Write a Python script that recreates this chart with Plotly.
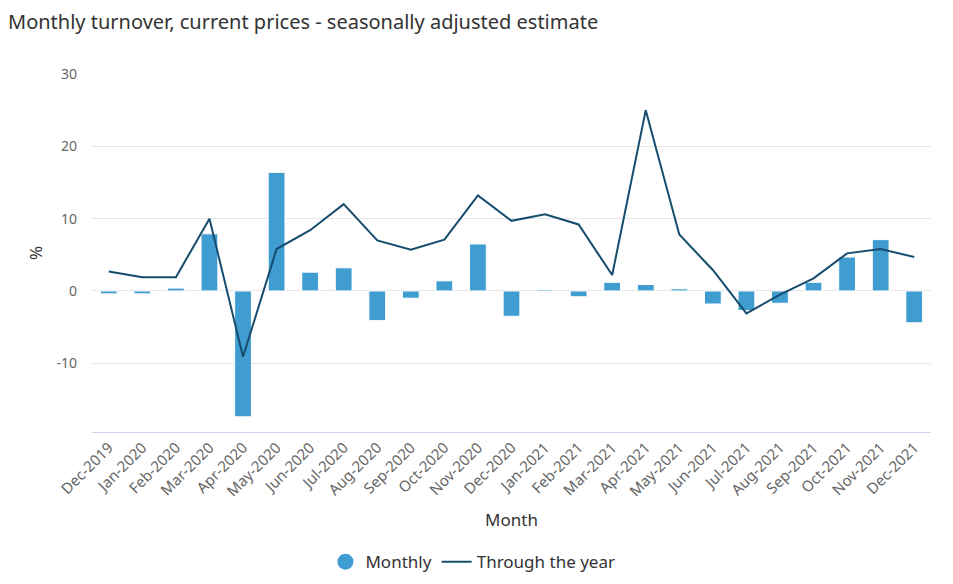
import plotly.graph_objects as go

months = ["Dec-2019", "Jan-2020", "Feb-2020", "Mar-2020", "Apr-2020", "May-2020", "Jun-2020",
          "Jul-2020", "Aug-2020", "Sep-2020", "Oct-2020", "Nov-2020", "Dec-2020", "Jan-2021",
          "Feb-2021", "Mar-2021", "Apr-2021", "May-2021", "Jun-2021", "Jul-2021", "Aug-2021",
          "Sep-2021", "Oct-2021", "Nov-2021", "Dec-2021"]
monthly = [-0.4, -0.4, 0.4, 7.9, -17.4, 16.4, 2.6, 3.2, -4.1, -1.0, 1.4, 6.5, -3.5, 0.2,
           -0.8, 1.2, 0.9, 0.3, -1.8, -2.7, -1.7, 1.2, 4.7, 7.1, -4.4]
through_year = [2.7, 1.9, 1.9, 10.0, -9.1, 5.8, 8.4, 12.0, 7.0, 5.7, 7.1, 13.2, 9.7, 10.6,
                9.2, 2.2, 25.0, 7.8, 2.9, -3.1, -0.5, 1.75, 5.2, 5.8, 4.7]
y_ticks = [-10, 0, 10, 20, 30]
y_tick_labels = ["-10", "0", "10", "20", "30"]

BAR = "#3f9dd1"
LINE = "#164d6e"
FONT = "Noto Sans"

fig = go.Figure()
fig.add_trace(go.Bar(
    x=months, y=monthly, name="Monthly", showlegend=False, legendgroup="m",
    marker=dict(color=BAR, line=dict(color="white", width=1)), width=0.5,
))
fig.add_trace(go.Scatter(
    x=[None], y=[None], mode="markers", name="Monthly", legendgroup="m",
    marker=dict(color=BAR, size=17, symbol="circle"),
))
fig.add_trace(go.Scatter(
    x=months, y=through_year, mode="lines", name="Through the year",
    line=dict(color=LINE, width=2),
))

# page body has an 8px margin, so the figure is sized/offset accordingly
fig.update_layout(
    width=945, height=576,
    margin=dict(l=84, r=22, t=66, b=152),
    paper_bgcolor="white", plot_bgcolor="white",
    font=dict(family=FONT, color="#666666", size=14),
    title=dict(text="Monthly turnover, current prices - seasonally adjusted estimate",
               x=0.0, xanchor="left", y=0.975, yanchor="middle",
               font=dict(family=FONT, size=20, color="#333333")),
    legend=dict(orientation="h", xref="container", yref="container",
                x=0.492, xanchor="center", y=0.038, yanchor="middle",
                font=dict(family=FONT, size=17, color="#333333"), itemwidth=30),
)
fig.update_xaxes(
    type="category", tickangle=-45, tickfont=dict(size=15, color="#666666"),
    showline=True, linecolor="#ccd6eb", linewidth=1, showgrid=False, ticks="",
    title=dict(text="Month", font=dict(size=17, color="#333333"), standoff=14),
)
fig.update_yaxes(
    range=[-19.5, 30], tickvals=y_ticks, ticktext=y_tick_labels,
    gridcolor="#e6e6e6", gridwidth=1,
    zeroline=False, showline=False, tickfont=dict(size=14, color="#666666"),
    ticklabelstandoff=14,
    title=dict(text="%", font=dict(size=17, color="#333333"), standoff=9),
)

fig.write_html("out.html")
